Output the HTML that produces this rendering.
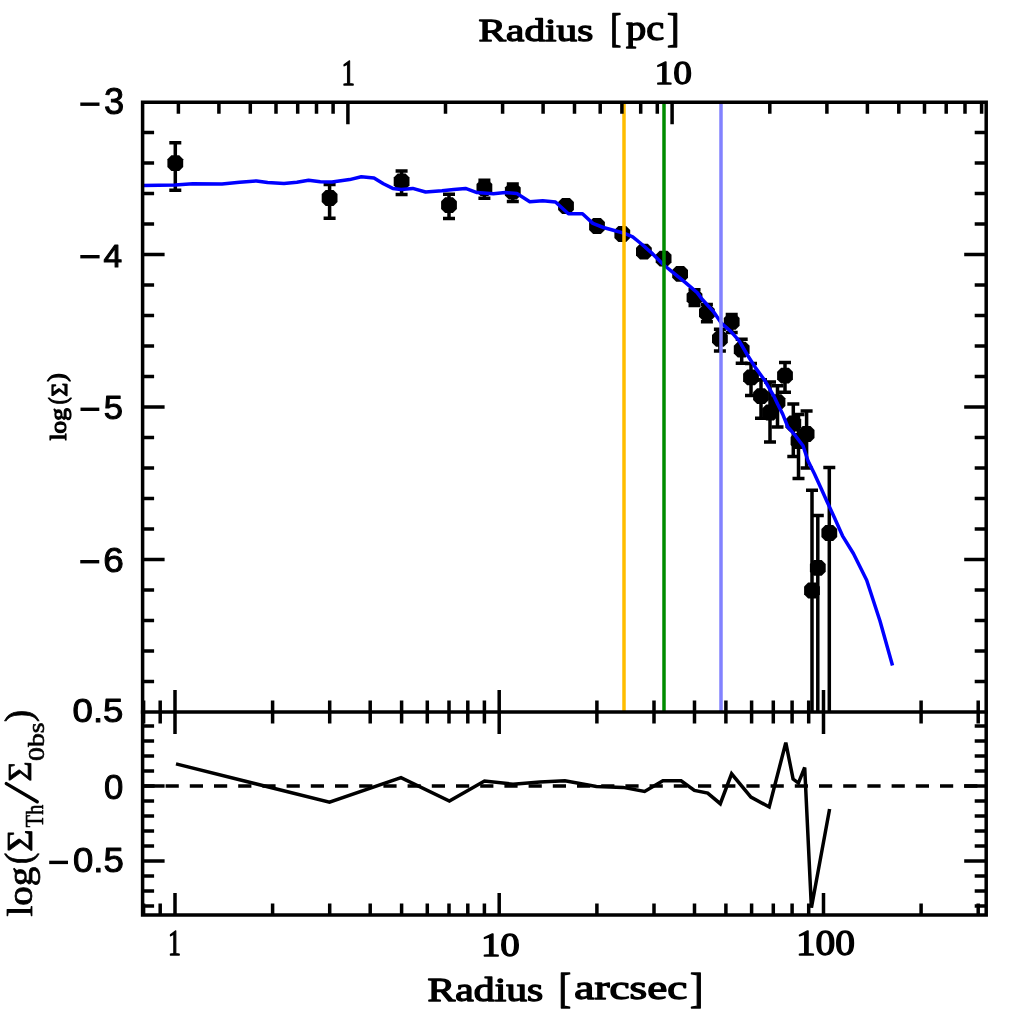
<!DOCTYPE html>
<html><head><meta charset="utf-8"><style>
html,body{margin:0;padding:0;background:#fff;width:1024px;height:1024px;overflow:hidden}
svg{display:block;will-change:transform}
</style></head><body>
<svg width="1024" height="1024" viewBox="0 0 1024 1024">
<rect width="1024" height="1024" fill="#fff"/>
<g stroke="#000" stroke-width="3.5" fill="none">
<path d="M175.3 142.7V190.3M169.3 142.7h12M169.3 190.3h12"/>
<path d="M329.6 184.4V218.3M323.6 184.4h12M323.6 218.3h12"/>
<path d="M401.6 171.0V194.4M395.6 171.0h12M395.6 194.4h12"/>
<path d="M449.0 194.3V218.6M443.0 194.3h12M443.0 218.6h12"/>
<path d="M484.4 180.2V198.2M478.4 180.2h12M478.4 198.2h12"/>
<path d="M512.8 184.1V201.4M506.8 184.1h12M506.8 201.4h12"/>
<path d="M694.5 289.8V305.6M688.5 289.8h12M688.5 305.6h12"/>
<path d="M706.9 304.4V321.7M700.9 304.4h12M700.9 321.7h12"/>
<path d="M731.7 314.5V332.4M725.7 314.5h12M725.7 332.4h12"/>
<path d="M719.9 329.2V350.9M713.9 329.2h12M713.9 350.9h12"/>
<path d="M741.7 339.2V363.3M735.7 339.2h12M735.7 363.3h12"/>
<path d="M751.0 363.5V395.4M745.0 363.5h12M745.0 395.4h12"/>
<path d="M761.0 379.7V418.2M755.0 379.7h12M755.0 418.2h12"/>
<path d="M785.0 362.6V392.3M779.0 362.6h12M779.0 392.3h12"/>
<path d="M777.5 385.8V426.9M771.5 385.8h12M771.5 426.9h12"/>
<path d="M770.0 382.0V442.0M764.0 382.0h12M764.0 442.0h12"/>
<path d="M793.3 404.0V456.5M787.3 404.0h12M787.3 456.5h12"/>
<path d="M806.6 411.0V468.0M800.6 411.0h12M800.6 468.0h12"/>
<path d="M798.5 414.5V478.5M792.5 414.5h12M792.5 478.5h12"/>
<path d="M829.3 467.5V712M823.3 467.5h12"/>
<path d="M817.8 515.6V712M811.8 515.6h12"/>
<path d="M812.0 490.3V712M806.0 490.3h12"/>
</g>
<g fill="#000">
<polygon points="179.2,155.3 183.2,159.3 183.2,167.1 179.2,171.1 171.4,171.1 167.4,167.1 167.4,159.3 171.4,155.3"/>
<polygon points="333.5,190.1 337.5,194.1 337.5,201.9 333.5,205.9 325.7,205.9 321.7,201.9 321.7,194.1 325.7,190.1"/>
<polygon points="405.5,173.6 409.5,177.6 409.5,185.4 405.5,189.4 397.7,189.4 393.7,185.4 393.7,177.6 397.7,173.6"/>
<polygon points="452.9,197.3 456.9,201.3 456.9,209.1 452.9,213.1 445.1,213.1 441.1,209.1 441.1,201.3 445.1,197.3"/>
<polygon points="488.3,180.1 492.3,184.1 492.3,191.9 488.3,195.9 480.5,195.9 476.5,191.9 476.5,184.1 480.5,180.1"/>
<polygon points="516.7,183.6 520.7,187.6 520.7,195.4 516.7,199.4 508.9,199.4 504.9,195.4 504.9,187.6 508.9,183.6"/>
<polygon points="569.9,198.1 573.9,202.1 573.9,209.9 569.9,213.9 562.1,213.9 558.1,209.9 558.1,202.1 562.1,198.1"/>
<polygon points="600.9,218.1 604.9,222.1 604.9,229.9 600.9,233.9 593.1,233.9 589.1,229.9 589.1,222.1 593.1,218.1"/>
<polygon points="626.2,226.1 630.2,230.1 630.2,237.9 626.2,241.9 618.4,241.9 614.4,237.9 614.4,230.1 618.4,226.1"/>
<polygon points="647.8,243.8 651.8,247.8 651.8,255.6 647.8,259.6 640.0,259.6 636.0,255.6 636.0,247.8 640.0,243.8"/>
<polygon points="667.5,250.8 671.5,254.8 671.5,262.6 667.5,266.6 659.7,266.6 655.7,262.6 655.7,254.8 659.7,250.8"/>
<polygon points="684.0,266.0 688.0,270.0 688.0,277.8 684.0,281.8 676.2,281.8 672.2,277.8 672.2,270.0 676.2,266.0"/>
<polygon points="698.4,289.7 702.4,293.7 702.4,301.5 698.4,305.5 690.6,305.5 686.6,301.5 686.6,293.7 690.6,289.7"/>
<polygon points="710.8,305.0 714.8,309.0 714.8,316.8 710.8,320.8 703.0,320.8 699.0,316.8 699.0,309.0 703.0,305.0"/>
<polygon points="735.6,313.9 739.6,317.9 739.6,325.7 735.6,329.7 727.8,329.7 723.8,325.7 723.8,317.9 727.8,313.9"/>
<polygon points="723.8,330.9 727.8,334.9 727.8,342.7 723.8,346.7 716.0,346.7 712.0,342.7 712.0,334.9 716.0,330.9"/>
<polygon points="745.6,341.8 749.6,345.8 749.6,353.6 745.6,357.6 737.8,357.6 733.8,353.6 733.8,345.8 737.8,341.8"/>
<polygon points="754.9,369.4 758.9,373.4 758.9,381.2 754.9,385.2 747.1,385.2 743.1,381.2 743.1,373.4 747.1,369.4"/>
<polygon points="764.9,388.2 768.9,392.2 768.9,400.0 764.9,404.0 757.1,404.0 753.1,400.0 753.1,392.2 757.1,388.2"/>
<polygon points="788.9,367.7 792.9,371.7 792.9,379.5 788.9,383.5 781.1,383.5 777.1,379.5 777.1,371.7 781.1,367.7"/>
<polygon points="781.4,394.3 785.4,398.3 785.4,406.1 781.4,410.1 773.6,410.1 769.6,406.1 769.6,398.3 773.6,394.3"/>
<polygon points="773.9,404.6 777.9,408.6 777.9,416.4 773.9,420.4 766.1,420.4 762.1,416.4 762.1,408.6 766.1,404.6"/>
<polygon points="797.2,415.6 801.2,419.6 801.2,427.4 797.2,431.4 789.4,431.4 785.4,427.4 785.4,419.6 789.4,415.6"/>
<polygon points="810.5,426.1 814.5,430.1 814.5,437.9 810.5,441.9 802.7,441.9 798.7,437.9 798.7,430.1 802.7,426.1"/>
<polygon points="802.4,433.1 806.4,437.1 806.4,444.9 802.4,448.9 794.6,448.9 790.6,444.9 790.6,437.1 794.6,433.1"/>
<polygon points="833.2,525.1 837.2,529.1 837.2,536.9 833.2,540.9 825.4,540.9 821.4,536.9 821.4,529.1 825.4,525.1"/>
<polygon points="821.7,559.9 825.7,563.9 825.7,571.7 821.7,575.7 813.9,575.7 809.9,571.7 809.9,563.9 813.9,559.9"/>
<polygon points="815.9,582.6 819.9,586.6 819.9,594.4 815.9,598.4 808.1,598.4 804.1,594.4 804.1,586.6 808.1,582.6"/>
</g>
<path d="M142.5 185.5 L175.2 184.9 L192.7 183.8 L222.0 184.1 L239.6 182.3 L256.5 180.9 L267.6 182.6 L284.0 183.5 L296.9 182.3 L308.6 180.2 L320.3 181.8 L332.0 182.0 L349.6 179.6 L361.3 176.7 L374.0 177.9 L383.4 183.8 L392.8 188.4 L401.0 189.6 L412.7 188.4 L425.6 192.0 L442.0 190.8 L453.8 189.4 L465.5 188.4 L477.0 192.6 L493.4 193.8 L505.2 192.6 L516.9 193.5 L529.8 201.7 L542.7 200.8 L555.5 202.0 L568.4 213.7 L582.5 213.7 L592.9 223.4 L603.4 227.5 L615.2 230.7 L624.5 233.4 L632.7 236.9 L642.1 244.5 L652.7 253.9 L663.2 264.5 L673.8 273.2 L685.5 282.6 L697.2 292.6 L701.7 298.8 L713.4 311.6 L721.6 323.4 L731.0 331.6 L739.2 340.9 L747.4 355.0 L755.6 367.9 L765.0 380.8 L774.4 397.2 L777.6 404.0 L782.7 414.1 L787.8 426.8 L795.4 435.7 L803.0 445.8 L808.1 461.0 L814.4 473.8 L820.8 487.7 L827.1 501.7 L834.7 518.2 L842.5 535.8 L853.4 553.5 L866.7 580.3 L880.0 621.0 L892.5 665.5" fill="none" stroke="#0000ff" stroke-width="3.5" stroke-linejoin="round"/>
<path d="M624 102.3V712.0" stroke="#ffbd00" stroke-width="3.5"/>
<path d="M664 102.3V712.0" stroke="#008c00" stroke-width="3.5"/>
<path d="M721 102.3V712.0" stroke="#8282ff" stroke-width="3.5"/>
<path d="M142.6 786H986.2" stroke="#000" stroke-width="3.5" stroke-dasharray="13.2 11" stroke-dashoffset="1.2"/>
<path d="M176.0 763.9 L329.5 802.2 L401.0 777.6 L449.4 801.0 L484.5 781.0 L513.0 784.2 L540.0 782.1 L564.9 780.8 L596.4 786.4 L623.0 787.4 L644.6 791.4 L662.9 780.8 L681.1 780.8 L694.4 790.4 L707.7 793.1 L720.3 803.7 L731.6 773.8 L750.9 797.1 L769.2 807.0 L785.8 742.6 L793.1 779.1 L798.4 783.1 L804.7 767.5 L811.4 907.7 L829.6 809.0" fill="none" stroke="#000" stroke-width="3.5" stroke-linejoin="miter"/>
<g stroke="#000" stroke-width="3.5" fill="none" stroke-linecap="square">
<path d="M142.6 102.3H986.2V915.0H142.6Z"/>
<path d="M142.6 712.0H986.2"/>
</g>
<path d="M143.6 712.0v-11.5M143.6 712.0v11.5M143.6 915.0v-11.5M160.2 712.0v-11.5M160.2 712.0v11.5M160.2 915.0v-11.5M175.0 712.0v-22M175.0 712.0v22M175.0 915.0v-22M272.6 712.0v-11.5M272.6 712.0v11.5M272.6 915.0v-11.5M329.7 712.0v-11.5M329.7 712.0v11.5M329.7 915.0v-11.5M370.2 712.0v-11.5M370.2 712.0v11.5M370.2 915.0v-11.5M401.6 712.0v-11.5M401.6 712.0v11.5M401.6 915.0v-11.5M427.3 712.0v-11.5M427.3 712.0v11.5M427.3 915.0v-11.5M449.0 712.0v-11.5M449.0 712.0v11.5M449.0 915.0v-11.5M467.8 712.0v-11.5M467.8 712.0v11.5M467.8 915.0v-11.5M484.4 712.0v-11.5M484.4 712.0v11.5M484.4 915.0v-11.5M499.2 712.0v-22M499.2 712.0v22M499.2 915.0v-22M596.9 712.0v-11.5M596.9 712.0v11.5M596.9 915.0v-11.5M654.0 712.0v-11.5M654.0 712.0v11.5M654.0 915.0v-11.5M694.5 712.0v-11.5M694.5 712.0v11.5M694.5 915.0v-11.5M725.9 712.0v-11.5M725.9 712.0v11.5M725.9 915.0v-11.5M751.6 712.0v-11.5M751.6 712.0v11.5M751.6 915.0v-11.5M773.3 712.0v-11.5M773.3 712.0v11.5M773.3 915.0v-11.5M792.1 712.0v-11.5M792.1 712.0v11.5M792.1 915.0v-11.5M808.7 712.0v-11.5M808.7 712.0v11.5M808.7 915.0v-11.5M823.5 712.0v-22M823.5 712.0v22M823.5 915.0v-22M921.1 712.0v-11.5M921.1 712.0v11.5M921.1 915.0v-11.5M978.2 712.0v-11.5M978.2 712.0v11.5M978.2 915.0v-11.5M178.4 102.3v11.5M218.9 102.3v11.5M250.3 102.3v11.5M276.0 102.3v11.5M297.7 102.3v11.5M316.5 102.3v11.5M333.1 102.3v11.5M347.9 102.3v22M445.5 102.3v11.5M502.6 102.3v11.5M543.1 102.3v11.5M574.5 102.3v11.5M600.2 102.3v11.5M621.9 102.3v11.5M640.7 102.3v11.5M657.3 102.3v11.5M672.1 102.3v22M769.8 102.3v11.5M826.9 102.3v11.5M867.4 102.3v11.5M898.8 102.3v11.5M924.5 102.3v11.5M946.2 102.3v11.5M965.0 102.3v11.5M981.6 102.3v11.5M142.6 132.5h11.5M986.2 132.5h-11.5M142.6 163.0h11.5M986.2 163.0h-11.5M142.6 193.5h11.5M986.2 193.5h-11.5M142.6 224.0h11.5M986.2 224.0h-11.5M142.6 254.5h22M986.2 254.5h-22M142.6 285.0h11.5M986.2 285.0h-11.5M142.6 315.5h11.5M986.2 315.5h-11.5M142.6 346.0h11.5M986.2 346.0h-11.5M142.6 376.5h11.5M986.2 376.5h-11.5M142.6 407.0h22M986.2 407.0h-22M142.6 437.5h11.5M986.2 437.5h-11.5M142.6 468.0h11.5M986.2 468.0h-11.5M142.6 498.5h11.5M986.2 498.5h-11.5M142.6 529.0h11.5M986.2 529.0h-11.5M142.6 559.5h22M986.2 559.5h-22M142.6 590.0h11.5M986.2 590.0h-11.5M142.6 620.5h11.5M986.2 620.5h-11.5M142.6 651.0h11.5M986.2 651.0h-11.5M142.6 681.5h11.5M986.2 681.5h-11.5M142.6 726.0h11.5M986.2 726.0h-11.5M142.6 741.0h11.5M986.2 741.0h-11.5M142.6 756.0h11.5M986.2 756.0h-11.5M142.6 771.0h11.5M986.2 771.0h-11.5M142.6 786.0h22M986.2 786.0h-22M142.6 801.0h11.5M986.2 801.0h-11.5M142.6 816.0h11.5M986.2 816.0h-11.5M142.6 831.0h11.5M986.2 831.0h-11.5M142.6 846.0h11.5M986.2 846.0h-11.5M142.6 861.0h22M986.2 861.0h-22M142.6 876.0h11.5M986.2 876.0h-11.5M142.6 891.0h11.5M986.2 891.0h-11.5M142.6 906.0h11.5M986.2 906.0h-11.5" stroke="#000" stroke-width="3.5" fill="none"/>
<text font-family="Liberation Serif, serif" font-size="36.12" x="168.00" y="955.00" textLength="12.92" lengthAdjust="spacingAndGlyphs" fill="#000" stroke="#000" stroke-width="1.3" stroke-linejoin="round">1</text>
<text font-family="Liberation Serif, serif" font-size="32.68" x="480.90" y="955.60" textLength="38.95" lengthAdjust="spacingAndGlyphs" fill="#000" stroke="#000" stroke-width="1.3" stroke-linejoin="round">10</text>
<text font-family="Liberation Serif, serif" font-size="34.97" x="795.90" y="954.60" textLength="59.13" lengthAdjust="spacingAndGlyphs" fill="#000" stroke="#000" stroke-width="1.3" stroke-linejoin="round">100</text>
<text font-family="Liberation Serif, serif" font-size="36.12" x="341.60" y="84.70" textLength="13.38" lengthAdjust="spacingAndGlyphs" fill="#000" stroke="#000" stroke-width="1.3" stroke-linejoin="round">1</text>
<text font-family="Liberation Serif, serif" font-size="33.86" x="654.60" y="83.90" textLength="37.41" lengthAdjust="spacingAndGlyphs" fill="#000" stroke="#000" stroke-width="1.3" stroke-linejoin="round">10</text>
<text font-family="Liberation Sans, sans-serif" font-size="36.19" x="104.10" y="114.10" textLength="20.18" lengthAdjust="spacingAndGlyphs" fill="#000" stroke="#000" stroke-width="1.0" stroke-linejoin="round">3</text>
<text font-family="Liberation Sans, sans-serif" font-size="30.72" x="103.60" y="267.10" textLength="18.62" lengthAdjust="spacingAndGlyphs" fill="#000" stroke="#000" stroke-width="1.0" stroke-linejoin="round">4</text>
<text font-family="Liberation Sans, sans-serif" font-size="33.12" x="103.70" y="419.20" textLength="19.24" lengthAdjust="spacingAndGlyphs" fill="#000" stroke="#000" stroke-width="1.0" stroke-linejoin="round">5</text>
<text font-family="Liberation Sans, sans-serif" font-size="35.60" x="103.30" y="572.30" textLength="20.57" lengthAdjust="spacingAndGlyphs" fill="#000" stroke="#000" stroke-width="1.0" stroke-linejoin="round">6</text>
<text font-family="Liberation Sans, sans-serif" font-size="33.94" x="72.60" y="722.40" textLength="50.84" lengthAdjust="spacingAndGlyphs" fill="#000" stroke="#000" stroke-width="1.0" stroke-linejoin="round">0.5</text>
<text font-family="Liberation Sans, sans-serif" font-size="35.11" x="104.10" y="799.00" textLength="19.30" lengthAdjust="spacingAndGlyphs" fill="#000" stroke="#000" stroke-width="1.0" stroke-linejoin="round">0</text>
<text font-family="Liberation Sans, sans-serif" font-size="34.20" x="73.00" y="872.30" textLength="50.84" lengthAdjust="spacingAndGlyphs" fill="#000" stroke="#000" stroke-width="1.0" stroke-linejoin="round">0.5</text>
<g transform="translate(32.60 919.00) rotate(-90)"><text font-family="Liberation Serif, serif" font-size="24.56" x="91.80" y="10.00" textLength="22.52" lengthAdjust="spacingAndGlyphs" fill="#000" stroke="#000" stroke-width="0.6" stroke-linejoin="round">Th</text></g>
<g transform="translate(32.60 919.00) rotate(-90)"><text font-family="Liberation Serif, serif" font-size="23.63" x="158.10" y="11.15" textLength="38.48" lengthAdjust="spacingAndGlyphs" fill="#000" stroke="#000" stroke-width="0.6" stroke-linejoin="round">0bs</text></g>
<g transform="translate(32.60 919.00) rotate(-90)"><text font-family="Liberation Serif, serif" font-size="37.07" x="197.10" y="-2.10" textLength="12.05" lengthAdjust="spacingAndGlyphs" fill="#000" stroke="#000" stroke-width="0.8" stroke-linejoin="round">)</text></g>
<g transform="translate(67.30 441.00) rotate(-90)"><text font-family="Liberation Serif, serif" font-size="23.96" x="0.50" y="-1.10" textLength="32.46" lengthAdjust="spacingAndGlyphs" fill="#000" stroke="#000" stroke-width="1.2" stroke-linejoin="round">log</text></g>
<g transform="translate(67.30 441.00) rotate(-90)"><text font-family="Liberation Serif, serif" font-size="25.85" x="36.80" y="-1.77" textLength="6.94" lengthAdjust="spacingAndGlyphs" fill="#000" stroke="#000" stroke-width="1.2" stroke-linejoin="round">(</text></g>
<g transform="translate(67.30 441.00) rotate(-90)"><text font-family="Liberation Serif, serif" font-size="23.93" x="44.55" y="-0.65" textLength="13.67" lengthAdjust="spacingAndGlyphs" fill="#000" stroke="#000" stroke-width="1.2" stroke-linejoin="round">Σ</text></g>
<g transform="translate(67.30 441.00) rotate(-90)"><text font-family="Liberation Serif, serif" font-size="24.38" x="59.20" y="-2.27" textLength="8.39" lengthAdjust="spacingAndGlyphs" fill="#000" stroke="#000" stroke-width="1.2" stroke-linejoin="round">)</text></g>
<g transform="translate(32.60 919.00) rotate(-90)"><text font-family="Liberation Serif, serif" font-size="35.55" x="2.40" y="-0.60" textLength="50.04" lengthAdjust="spacingAndGlyphs" fill="#000" stroke="#000" stroke-width="0.8" stroke-linejoin="round">log</text></g>
<g transform="translate(32.60 919.00) rotate(-90)"><text font-family="Liberation Serif, serif" font-size="37.89" x="55.10" y="-1.70" textLength="11.24" lengthAdjust="spacingAndGlyphs" fill="#000" stroke="#000" stroke-width="0.8" stroke-linejoin="round">(</text></g>
<g transform="translate(32.60 919.00) rotate(-90)"><text font-family="Liberation Serif, serif" font-size="36.79" x="67.20" y="-0.90" textLength="22.27" lengthAdjust="spacingAndGlyphs" fill="#000" stroke="#000" stroke-width="0.8" stroke-linejoin="round">Σ</text></g>
<g transform="translate(32.60 919.00) rotate(-90)"><text font-family="Liberation Serif, serif" font-size="34.58" x="137.50" y="-1.30" textLength="20.18" lengthAdjust="spacingAndGlyphs" fill="#000" stroke="#000" stroke-width="0.8" stroke-linejoin="round">Σ</text></g>
<text font-family="Liberation Serif, serif" font-size="32.95" x="427.60" y="1000.60" textLength="115.62" lengthAdjust="spacingAndGlyphs" fill="#000" stroke="#000" stroke-width="1.3" stroke-linejoin="round">Radius</text>
<text font-family="Liberation Serif, serif" font-size="41.68" x="558.40" y="1001.50" textLength="12.60" lengthAdjust="spacingAndGlyphs" fill="#000" stroke="#000" stroke-width="1.3" stroke-linejoin="round">[</text>
<text font-family="Liberation Serif, serif" font-size="33.41" x="574.30" y="999.10" textLength="113.04" lengthAdjust="spacingAndGlyphs" fill="#000" stroke="#000" stroke-width="1.3" stroke-linejoin="round">arcsec</text>
<text font-family="Liberation Serif, serif" font-size="41.68" x="690.10" y="1001.50" textLength="13.30" lengthAdjust="spacingAndGlyphs" fill="#000" stroke="#000" stroke-width="1.3" stroke-linejoin="round">]</text>
<text font-family="Liberation Serif, serif" font-size="32.40" x="478.60" y="40.70" textLength="114.62" lengthAdjust="spacingAndGlyphs" fill="#000" stroke="#000" stroke-width="1.3" stroke-linejoin="round">Radius</text>
<text font-family="Liberation Serif, serif" font-size="40.53" x="610.20" y="41.70" textLength="11.06" lengthAdjust="spacingAndGlyphs" fill="#000" stroke="#000" stroke-width="1.3" stroke-linejoin="round">[</text>
<text font-family="Liberation Serif, serif" font-size="35.33" x="626.00" y="40.20" textLength="38.24" lengthAdjust="spacingAndGlyphs" fill="#000" stroke="#000" stroke-width="1.3" stroke-linejoin="round">pc</text>
<text font-family="Liberation Serif, serif" font-size="40.53" x="667.00" y="41.70" textLength="12.53" lengthAdjust="spacingAndGlyphs" fill="#000" stroke="#000" stroke-width="1.3" stroke-linejoin="round">]</text>
<path d="M6.3 783.6L37.2 801.8" stroke="#000" stroke-width="3.4" stroke-linecap="round"/>
<rect x="80.3" y="102.5" width="19.2" height="3.4" fill="#000"/>
<rect x="80.3" y="255.0" width="19.3" height="3.4" fill="#000"/>
<rect x="80.5" y="407.6" width="18.8" height="3.4" fill="#000"/>
<rect x="80.25" y="560.0" width="19.0" height="3.4" fill="#000"/>
<rect x="49.2" y="860.7" width="18.8" height="3.4" fill="#000"/>
</svg>
</body></html>
